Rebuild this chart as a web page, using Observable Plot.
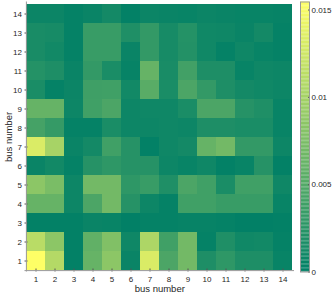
<!DOCTYPE html>
<html>
<head>
<meta charset="utf-8">
<script src="https://cdn.jsdelivr.net/npm/d3@7"></script>
<script src="https://cdn.jsdelivr.net/npm/@observablehq/plot@0.6"></script>
<style>
  html, body { margin: 0; padding: 0; background: #fff; }
  #wrap { position: relative; width: 332px; height: 293px; }
  #wrap svg { position: absolute; left: 0; top: 0; overflow: visible; }
</style>
</head>
<body>
<div id="wrap"></div>
<script>
// bus numbers (x = column, y = row)
const buses = [1,2,3,4,5,6,7,8,9,10,11,12,13,14];
// values[i][j] : row bus i+1, column bus j+1  (units 1e-3)
const values = [
  [15.4,10.9,0.2,6.2,8.5,0.6,13.2,4.6,7.0,1.8,2.8,1.8,1.8,0.5], // row 1
  [11.2, 8.5,0.2,5.9,7.8,0.9,10.5,3.9,7.0,0.3,1.9,1.0,1.1,0.3], // row 2
  [ 0.2, 0.2,0.2,0.6,0.5,0.1, 0.3,0.3,0.4,0.4,0.3,0.1,0.1,0.2], // row 3
  [ 6.2, 6.2,0.8,4.6,7.0,2.3, 0.8,0.3,3.9,3.9,3.4,3.4,3.4,0.5], // row 4
  [ 8.5, 7.4,0.8,7.0,7.0,2.8, 3.4,1.9,4.6,3.9,1.6,3.9,3.9,0.9], // row 5
  [ 0.6, 1.1,0.3,2.3,2.8,2.3, 2.3,0.8,0.5,0.9,0.2,0.5,2.3,0.2], // row 6
  [13.2,10.1,0.6,1.2,3.9,2.3, 0.2,0.9,1.2,6.2,7.0,3.1,3.1,0.8], // row 7
  [ 4.2, 3.2,0.3,0.3,1.6,0.8, 0.8,0.9,0.8,1.8,1.8,1.6,1.6,0.5], // row 8
  [ 6.2, 6.2,0.8,3.9,4.6,0.8, 0.9,0.9,1.6,4.6,4.6,2.3,1.9,0.5], // row 9
  [ 1.6, 0.3,0.7,3.8,3.9,1.1, 5.4,1.6,4.6,3.1,1.8,1.2,1.0,0.8], // row 10
  [ 2.2, 1.8,0.6,3.1,1.6,0.4, 6.2,1.5,4.0,1.8,1.8,0.5,0.9,0.8], // row 11
  [ 1.5, 1.1,0.3,3.4,3.4,0.6, 3.1,1.4,2.1,1.0,0.3,0.9,0.5,0.3], // row 12
  [ 1.5, 1.4,0.3,3.4,3.4,1.9, 3.1,1.4,2.2,1.0,0.9,0.6,1.2,0.3], // row 13
  [ 0.7, 0.7,0.3,0.6,1.2,0.2, 0.7,0.6,0.5,0.7,0.6,0.5,0.5,0.4]  // row 14
];
const colorTicks = [0, 0.005, 0.01, 0.015];
const colorMax = 0.01546;

const cells = [];
values.forEach((row, i) => row.forEach((v, j) => cells.push({row: buses[i], col: buses[j], v: v / 1000})));

// MATLAB "summer" colormap
const summer = t => `rgb(${Math.round(255*t)},${Math.round(255*(0.5+t/2))},102)`;
const colorOpts = {type: "linear", domain: [0, colorMax], interpolate: summer, clamp: true};

const font = "'Liberation Sans', Arial, Helvetica, sans-serif";
const W = 332, H = 293;
const mL = 24.5, mR = 38, mT = 1.5, mB = 21.5;

const main = Plot.plot({
  width: W, height: H,
  marginLeft: mL, marginRight: mR, marginTop: mT, marginBottom: mB,
  style: {fontFamily: font, fontSize: "8px", color: "#262626", background: "transparent"},
  x: {type: "band", domain: buses, padding: 0},
  y: {type: "band", domain: buses.slice().reverse(), padding: 0},
  color: colorOpts,
  marks: [
    Plot.cell(cells, {x: "col", y: "row", fill: "v"}),
    Plot.axisX({anchor: "bottom", tickSize: -3, tickPadding: 7.5, stroke: "#555", label: null, fontSize: 8}),
    Plot.axisX({anchor: "bottom", ticks: [], tickSize: 0, label: "bus number", labelAnchor: "center", labelOffset: 20, fontSize: 9.5}),
    Plot.axisY({anchor: "left", tickSize: -3, tickPadding: 6, stroke: "#555", label: null, fontSize: 8}),
    Plot.axisY({anchor: "left", ticks: [], tickSize: 0, label: "bus number", labelAnchor: "center", labelOffset: 20, fontSize: 9.5}),
    Plot.ruleX([0], {x: () => buses[0], dx: -9.6, stroke: "#999"}),
    Plot.ruleY([0], {y: () => buses[0], dy: 9.6, stroke: "#999"})
  ]
});

const step = colorMax / 200;
const stops = d3.range(0, colorMax, step);
const bar = Plot.plot({
  width: W, height: H,
  marginLeft: 300, marginRight: 23, marginTop: mT, marginBottom: mB,
  style: {fontFamily: font, fontSize: "8px", color: "#262626", background: "transparent"},
  x: {domain: [0, 1], axis: null},
  y: {domain: [0, colorMax]},
  color: colorOpts,
  marks: [
    Plot.rect(stops, {x1: 0, x2: 1, y1: d => d, y2: d => Math.min(colorMax, d + step * 1.05), fill: d => d + step / 2}),
    Plot.axisY({anchor: "right", ticks: colorTicks, tickFormat: d => String(d), tickSize: -2, tickPadding: 4, stroke: "#555", label: null}),
    Plot.frame({stroke: "#999"})
  ]
});

const wrap = document.getElementById("wrap");
wrap.appendChild(main);
wrap.appendChild(bar);
</script>
</body>
</html>
